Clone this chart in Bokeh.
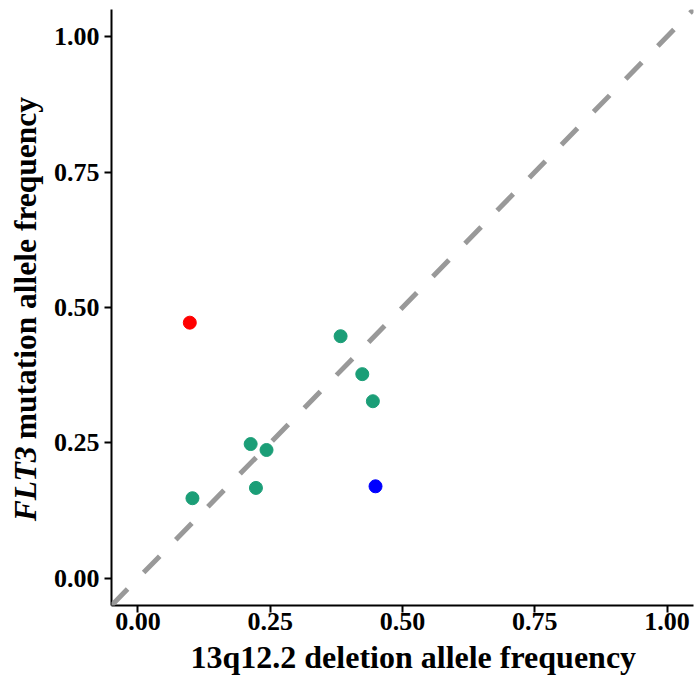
import math
from bokeh.plotting import figure
from bokeh.layouts import row
from bokeh.models import Range1d, Slope, FixedTicker, Title
from bokeh.core.properties import value
from bokeh.embed import file_html
from bokeh.resources import INLINE

# Data
green_x = [0.103, 0.213, 0.243, 0.223, 0.383, 0.424, 0.444]
green_y = [0.148, 0.248, 0.237, 0.167, 0.447, 0.377, 0.327]
red_x = [0.098]
red_y = [0.472]
blue_x = [0.449]
blue_y = [0.170]

tick_values = [0.0, 0.25, 0.5, 0.75, 1.0]
tick_labels = ["0.00", "0.25", "0.50", "0.75", "1.00"]

x_title = "13q12.2 deletion allele frequency"
y_title_gene = "FLT3"
y_title_rest = "mutation allele frequency"

FONT = "Liberation Serif"
LAB_W = 50

# narrow figure that carries the rotated y-axis title (its frame is aligned
# with the main frame by the row layout, so it shares the y data units)
pl = figure(width=LAB_W, height=676, min_border=0,
            x_range=Range1d(0, LAB_W), y_range=Range1d(-0.05, 1.05),
            x_axis_location=None, y_axis_location=None,
            output_backend="svg", toolbar_location=None,
            background_fill_color="white", border_fill_color="white")
pl.outline_line_color = None
pl.grid.visible = False
pl.text(x=[25], y=[0.1025], text=[y_title_gene], angle=math.pi / 2,
        text_font=value(FONT), text_font_style="bold italic",
        text_font_size="31.5px", text_color="black",
        text_align="left", text_baseline="middle")
pl.text(x=[25], y=[0.254], text=[y_title_rest], angle=math.pi / 2,
        text_font=value(FONT), text_font_style="bold",
        text_font_size="31.5px", text_color="black",
        text_align="left", text_baseline="middle")

p = figure(
    frame_width=582, frame_height=596,
    min_border_left=111 - LAB_W, min_border_right=2, min_border_top=9, min_border_bottom=60,
    x_range=Range1d(-0.05, 1.05), y_range=Range1d(-0.05, 1.05),
    output_backend="svg", toolbar_location=None,
    background_fill_color="white", border_fill_color="white",
)
p.outline_line_color = None
p.xgrid.visible = False
p.ygrid.visible = False

# reference line y = x
p.add_layout(Slope(gradient=1, y_intercept=0, line_color="#999999",
                   line_width=5, line_dash="23 23"))

p.scatter(green_x, green_y, size=13, color="#1B9E77")
p.scatter(red_x, red_y, size=13, color="#FF0000")
p.scatter(blue_x, blue_y, size=13, color="#0000FF")

for ax in (p.xaxis[0], p.yaxis[0]):
    ax.ticker = FixedTicker(ticks=tick_values)
    ax.major_label_overrides = dict(zip(tick_values, tick_labels))
    ax.minor_tick_line_color = None
    ax.axis_line_width = 2
    ax.axis_line_color = "black"
    ax.major_tick_line_width = 2
    ax.major_tick_line_color = "black"
    ax.major_tick_out = 7
    ax.major_tick_in = 0
    ax.major_label_text_font = FONT
    ax.major_label_text_font_style = "bold"
    ax.major_label_text_font_size = "26px"
    ax.major_label_text_color = "black"

p.xaxis[0].major_label_standoff = 0
p.yaxis[0].major_label_standoff = 5

# x-axis title as a below-title so it can be placed like the reference
p.add_layout(Title(text=x_title, align="left", offset=79, standoff=8,
                   text_font=FONT, text_font_style="bold",
                   text_font_size="32px", text_color="black"), "below")

layout = row(pl, p, spacing=0)
open("out.html", "w").write(file_html(layout, INLINE))
